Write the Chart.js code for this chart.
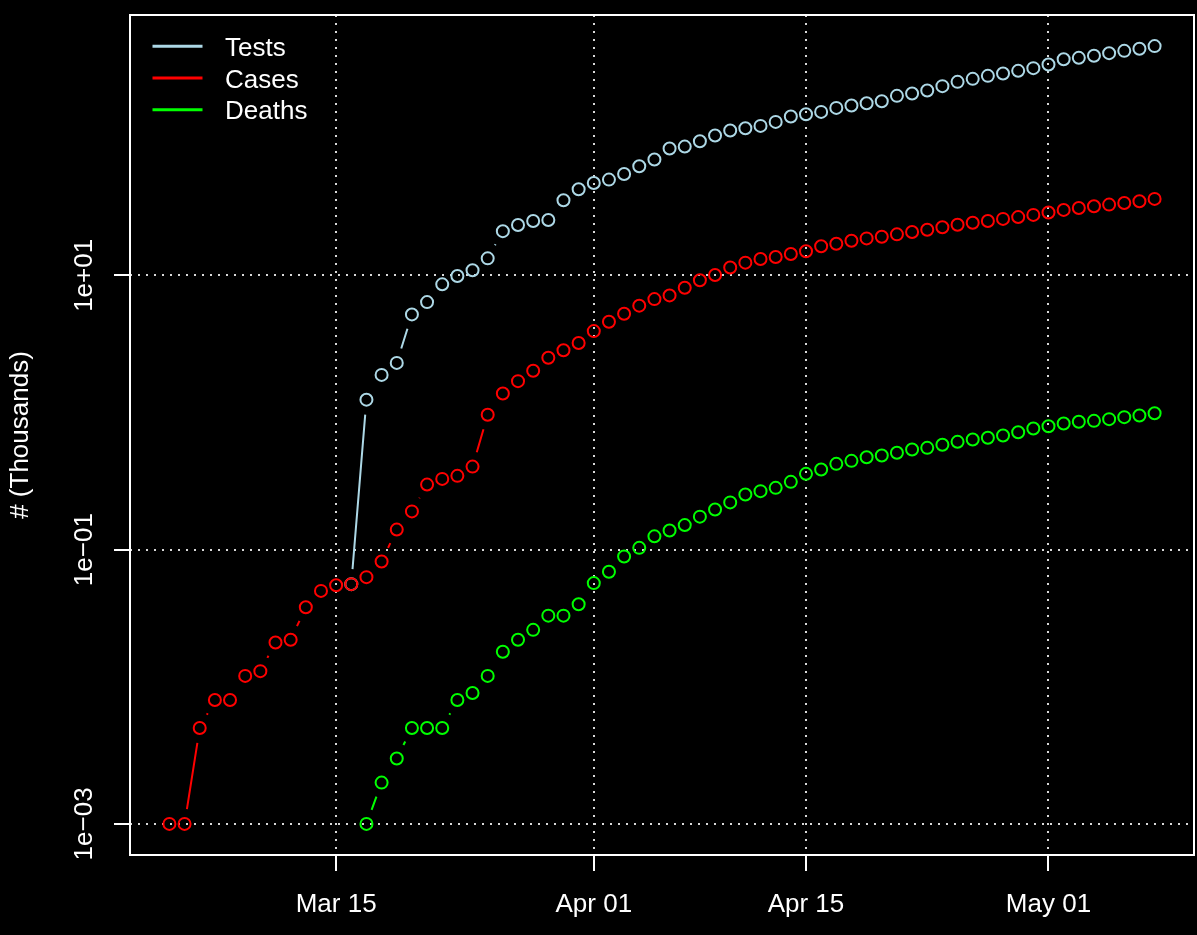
<!DOCTYPE html>
<html><head><meta charset="utf-8">
<script src="https://cdn.jsdelivr.net/npm/chart.js@4.4.1/dist/chart.umd.min.js"></script>
<style>html,body{margin:0;padding:0;background:#000;}canvas{display:block}</style>
</head><body>
<canvas id="c" width="1197" height="935"></canvas>
<script>
// ---- data (values in thousands) ----
const seriesNames = ['Tests', 'Cases', 'Deaths'];
const seriesColors = ['#ADD8E6', '#FF0000', '#00FF00'];
const firstDate = '2020-03-04';           // first day of the daily series
const tickDates = ['2020-03-15', '2020-04-01', '2020-04-15', '2020-05-01'];
const tickLabels = ['Mar 15', 'Apr 01', 'Apr 15', 'May 01'];
const yTickValues = [0.001, 0.1, 10];
const yTickLabels = ['1e\u221203', '1e\u221201', '1e+01'];
const yTitle = '# (Thousands)';

const tests = [
  null, null, null, null, null, null, null, null, null, null, null, null,
  0.056, 1.24, 1.88, 2.3, 5.19, 6.38, 8.6, 9.89, 10.9, 13.3, 21.0, 23.3, 24.9, 25.3, 35.3, 42.4,
  47.2, 49.9, 54.8, 62.5, 69.9, 84.1, 86.9, 95.1, 104.7, 113.8,
  118.3, 123, 131.5, 143.9, 149.6, 155.6, 166.4, 173.2, 180, 186,
  203.7, 212, 223, 239.7, 257.6, 271, 285, 296.6, 310, 324.4,
  345, 377, 385.6, 399, 417, 433.6, 448.8, 469.5
];
const cases = [
  0.001, 0.001, 0.005, 0.008, 0.008, 0.012, 0.013, 0.021, 0.022, 0.038, 0.050, 0.055,
  0.056, 0.063, 0.082, 0.140, 0.190, 0.298, 0.328, 0.345, 0.403, 0.962, 1.376, 1.693, 2.015, 2.507, 2.84, 3.21,
  3.92, 4.59, 5.25, 6.01, 6.71, 7.14, 8.13, 9.2, 10.05, 11.4,
  12.38, 13.15, 13.6, 14.3, 15.0, 16.3, 17.0, 17.9, 18.6, 19.1,
  19.9, 20.7, 21.5, 22.4, 23.4, 24.2, 24.9, 25.8, 26.6, 27.6,
  28.7, 30.0, 31.0, 31.9, 32.8, 33.7, 34.7, 36.1
];
const deaths = [
  null, null, null, null, null, null, null, null, null, null, null, null, null,
  0.001, 0.002, 0.003, 0.005, 0.005, 0.005, 0.008, 0.009, 0.012, 0.018, 0.022, 0.026, 0.033, 0.033, 0.040,
  0.057, 0.069, 0.089, 0.103, 0.125, 0.138, 0.151, 0.174, 0.196, 0.221,
  0.252, 0.267, 0.282, 0.312, 0.357, 0.384, 0.422, 0.444, 0.472, 0.486,
  0.508, 0.537, 0.552, 0.581, 0.611, 0.635, 0.654, 0.679, 0.718, 0.764,
  0.794, 0.832, 0.855, 0.869, 0.894, 0.925, 0.951, 0.988
];

// ---- helpers ----
const FONT = '"Liberation Sans", Arial, Helvetica, sans-serif';
const DAY = 86400000;
const dayNum = s => Date.parse(s + 'T00:00:00Z') / DAY;
const day0 = dayNum(firstDate);
const xDays = cases.map((_, i) => day0 + i);
const tickDays = tickDates.map(dayNum);

const allSeries = [tests, cases, deaths];
const xExt = 0.04 * (xDays[xDays.length - 1] - xDays[0]);
const allVals = allSeries.flat().filter(v => v != null);
const lo = Math.log10(Math.min(...allVals)), hi = Math.log10(Math.max(...allVals));
const yExt = 0.04 * (hi - lo);

const datasets = allSeries.map((arr, i) => ({
  label: seriesNames[i],
  data: arr.map((v, k) => ({ x: xDays[k], y: v })),
  order: allSeries.length - i,              // later series drawn on top, as in R
  borderColor: seriesColors[i],
  backgroundColor: 'rgba(0,0,0,0)',
  pointBorderColor: seriesColors[i],
  pointBackgroundColor: 'rgba(0,0,0,0)',
  pointRadius: 6,
  pointBorderWidth: 2,
  pointHoverRadius: 6,
  showLine: false
}));

const bgPlugin = {
  id: 'bg',
  beforeDraw(c) {
    const ctx = c.ctx;
    ctx.save(); ctx.fillStyle = '#000'; ctx.fillRect(0, 0, c.width, c.height); ctx.restore();
  }
};

// R type="b": segments between points, with a gap around each point
const segPlugin = {
  id: 'seg',
  beforeDatasetsDraw(c) {
    const ctx = c.ctx, gap = 15;
    ctx.save();
    c.data.datasets.forEach((ds, i) => {
      const pts = c.getDatasetMeta(i).data;
      ctx.strokeStyle = ds.borderColor;
      ctx.lineWidth = 2;
      ctx.lineCap = 'butt';
      ctx.beginPath();
      for (let k = 1; k < pts.length; k++) {
        if (ds.data[k - 1].y == null || ds.data[k].y == null) continue;
        const a = pts[k - 1], b = pts[k];
        const dx = b.x - a.x, dy = b.y - a.y, d = Math.hypot(dx, dy);
        if (d <= 2 * gap) continue;
        const ux = dx / d, uy = dy / d;
        ctx.moveTo(a.x + ux * gap, a.y + uy * gap);
        ctx.lineTo(b.x - ux * gap, b.y - uy * gap);
      }
      ctx.stroke();
    });
    ctx.restore();
  }
};

const decorPlugin = {
  id: 'decor',
  afterDraw(c) {
    const ctx = c.ctx, a = c.chartArea, ys = c.scales.y;
    ctx.save();
    // box
    ctx.strokeStyle = '#fff'; ctx.lineWidth = 2; ctx.setLineDash([]);
    ctx.strokeRect(a.left, a.top, a.right - a.left, a.bottom - a.top);
    // y tick labels (rotated, parallel to axis)
    ctx.fillStyle = '#fff';
    ctx.font = '26px ' + FONT;
    ctx.textAlign = 'center'; ctx.textBaseline = 'alphabetic';
    yTickValues.forEach((v, i) => {
      const y = ys.getPixelForValue(v);
      ctx.save(); ctx.translate(a.left - 38, y); ctx.rotate(-Math.PI / 2);
      ctx.fillText(yTickLabels[i], 0, 0); ctx.restore();
    });
    // legend
    ctx.textAlign = 'left';
    c.data.datasets.forEach((ds, i) => {
      const y = a.top + 31.3 + 31.7 * i;
      ctx.strokeStyle = ds.borderColor; ctx.lineWidth = 3; ctx.lineCap = 'butt';
      ctx.beginPath(); ctx.moveTo(a.left + 22.5, y); ctx.lineTo(a.left + 72.5, y); ctx.stroke();
      ctx.fillStyle = '#fff';
      ctx.fillText(ds.label, a.left + 95, y + 9.5);
    });
    ctx.restore();
  }
};

new Chart(document.getElementById('c'), {
  type: 'scatter',
  data: { datasets },
  options: {
    responsive: false,
    animation: false,
    devicePixelRatio: 1,
    layout: { autoPadding: false, padding: { left: 0, top: 15, right: 3, bottom: 0 } },
    plugins: { legend: { display: false }, tooltip: { enabled: false } },
    scales: {
      x: {
        type: 'linear',
        min: xDays[0] - xExt,
        max: xDays[xDays.length - 1] + xExt,
        afterBuildTicks: s => { s.ticks = tickDays.map(v => ({ value: v })); },
        afterFit: s => { s.height = 80; },
        ticks: {
          callback: v => tickLabels[tickDays.indexOf(v)],
          color: '#fff', font: { family: FONT, size: 26 }, padding: 18,
          autoSkip: false, maxRotation: 0, minRotation: 0
        },
        grid: {
          color: '#d8d8d8', lineWidth: 2, drawTicks: true, tickLength: 16,
          tickColor: '#fff', tickWidth: 2, tickBorderDash: []
        },
        border: { display: false, dash: [2, 6] }
      },
      y: {
        type: 'logarithmic',
        min: Math.pow(10, lo - yExt),
        max: Math.pow(10, hi + yExt),
        afterBuildTicks: s => { s.ticks = yTickValues.map(v => ({ value: v })); },
        afterFit: s => { s.width = 130; },
        ticks: { display: false },
        grid: {
          color: '#d8d8d8', lineWidth: 2, drawTicks: true, tickLength: 16,
          tickColor: '#fff', tickWidth: 2, tickBorderDash: []
        },
        border: { display: false, dash: [2, 6] },
        title: {
          display: true, text: yTitle, color: '#fff',
          font: { family: FONT, size: 26 }, padding: { top: 5, bottom: 0 }
        }
      }
    }
  },
  plugins: [bgPlugin, segPlugin, decorPlugin]
});
</script>
</body></html>
